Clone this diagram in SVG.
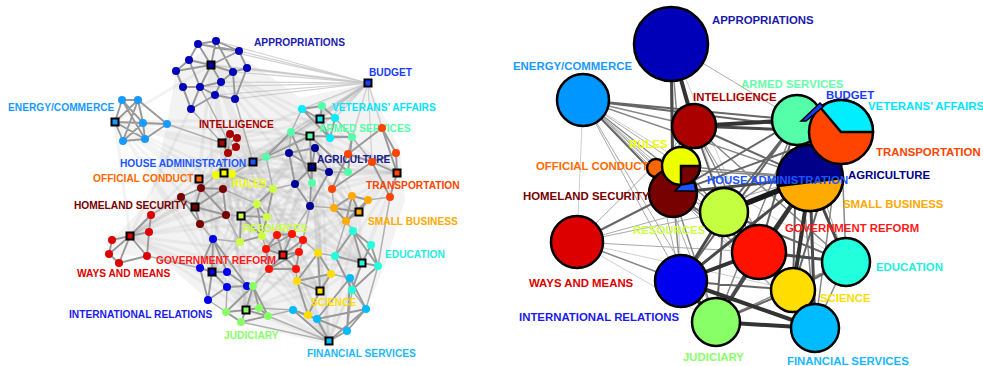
<svg xmlns="http://www.w3.org/2000/svg" width="983" height="366" viewBox="0 0 983 366">
<style>
text{font-family:"Liberation Sans",Arial,Helvetica,sans-serif;font-weight:bold}
.tl{font-size:10.2px}
.tr{font-size:11.4px}
.ce{fill:none;stroke:#999;stroke-width:1.9;stroke-linecap:round;stroke-linejoin:round}
.ie{fill:none;stroke:#b0b0b0;stroke-width:1.5}
.hz{fill:none;stroke:#999;stroke-opacity:.12;stroke-width:3}
.fan{fill:none;stroke:#d0d0d0;stroke-width:1.2}
.sq{stroke:#000;stroke-width:2}
.bc{stroke:#000;stroke-width:2.5}
.k{fill:none;stroke-linecap:round}
</style>
<rect width="983" height="366" fill="#fff"/>
<g id="connectors">
<g id="left-connectors">
<polygon points="176,71 211,45 247,60 300,98 368,83 400,150 405,200 385,265 366,309 329,345 268,330 241,322 208,300 160,258 109,254 112,240 150,200 167,124" fill="#f3f3f3"/>
<path class="fan" d="M368 83L216 41 368 83 239 51 368 83 247 68 368 83 233 72 368 83 221 82 368 83 235 99 368 83 215 95 368 83 198 44 368 83 211 65 368 83 200 87 368 83 302 109 368 83 320 119 368 83 335 118 368 83 352 137 368 83 382 128 368 83 397 173 368 83 348 154 368 83 310 136 368 83 291 132 368 83 253 162 368 83 372 162"/>
<path class="hz" d="M211 65L115 122 211 65 222 143 211 65 253 162 211 65 224 173 211 65 199 179 211 65 368 83 211 65 320 119 211 65 310 136 211 65 312 167 211 65 397 173 211 65 359 212 211 65 362 263 211 65 320 291 211 65 329 341 211 65 283 255 211 65 241 216 211 65 212 272 211 65 246 310 211 65 195 207 211 65 130 236"/>
<path class="hz" d="M115 122L222 143 115 122 253 162 115 122 224 173 115 122 199 179 115 122 320 119 115 122 310 136 115 122 312 167 115 122 283 255 115 122 241 216 115 122 212 272 115 122 195 207 115 122 130 236 115 122 362 263 115 122 246 310"/>
<path class="hz" d="M222 143L253 162 222 143 224 173 222 143 199 179 222 143 368 83 222 143 320 119 222 143 310 136 222 143 312 167 222 143 397 173 222 143 359 212 222 143 362 263 222 143 320 291 222 143 329 341 222 143 283 255 222 143 241 216 222 143 212 272 222 143 246 310 222 143 195 207 222 143 130 236"/>
<path class="hz" d="M253 162L224 173 253 162 199 179 253 162 368 83 253 162 320 119 253 162 310 136 253 162 312 167 253 162 397 173 253 162 359 212 253 162 362 263 253 162 320 291 253 162 329 341 253 162 283 255 253 162 241 216 253 162 212 272 253 162 246 310 253 162 195 207 253 162 130 236"/>
<path class="hz" d="M224 173L199 179 224 173 368 83 224 173 320 119 224 173 310 136 224 173 312 167 224 173 397 173 224 173 359 212 224 173 362 263 224 173 320 291 224 173 329 341 224 173 283 255 224 173 241 216 224 173 212 272 224 173 246 310 224 173 195 207 224 173 130 236"/>
<path class="hz" d="M199 179L320 119 199 179 310 136 199 179 312 167 199 179 397 173 199 179 359 212 199 179 362 263 199 179 320 291 199 179 329 341 199 179 283 255 199 179 241 216 199 179 212 272 199 179 246 310 199 179 195 207 199 179 130 236"/>
<path class="hz" d="M320 119L310 136 320 119 312 167 320 119 397 173 320 119 359 212 320 119 362 263 320 119 320 291 320 119 329 341 320 119 283 255 320 119 241 216 320 119 212 272 320 119 246 310 320 119 195 207 320 119 130 236 320 119 368 83"/>
<path class="hz" d="M310 136L312 167 310 136 397 173 310 136 359 212 310 136 362 263 310 136 320 291 310 136 329 341 310 136 283 255 310 136 241 216 310 136 212 272 310 136 246 310 310 136 195 207 310 136 130 236"/>
<path class="hz" d="M312 167L397 173 312 167 359 212 312 167 362 263 312 167 320 291 312 167 329 341 312 167 283 255 312 167 241 216 312 167 212 272 312 167 246 310 312 167 195 207 312 167 130 236"/>
<path class="hz" d="M397 173L359 212 397 173 362 263 397 173 320 291 397 173 329 341 397 173 283 255 397 173 241 216 397 173 212 272 397 173 246 310 397 173 195 207"/>
<path class="hz" d="M359 212L362 263 359 212 320 291 359 212 329 341 359 212 283 255 359 212 241 216 359 212 212 272 359 212 246 310 359 212 195 207 359 212 130 236"/>
<path class="hz" d="M362 263L320 291 362 263 329 341 362 263 283 255 362 263 241 216 362 263 212 272 362 263 246 310 362 263 195 207"/>
<path class="hz" d="M320 291L329 341 320 291 283 255 320 291 241 216 320 291 212 272 320 291 246 310 320 291 195 207 320 291 130 236"/>
<path class="hz" d="M329 341L283 255 329 341 241 216 329 341 212 272 329 341 246 310 329 341 195 207 329 341 130 236"/>
<path class="hz" d="M283 255L241 216 283 255 212 272 283 255 246 310 283 255 195 207 283 255 130 236 241 216 212 272 241 216 246 310 241 216 195 207 241 216 130 236"/>
<path class="hz" d="M212 272L246 310 212 272 195 207 212 272 130 236 246 310 195 207 246 310 130 236 195 207 130 236"/>
<path class="ie" d="M191 109L222 143 M200 87L229 143 M235 99L253 162 M167 124L222 143 M228 153L216 175 M232 174L253 162 M253 162L266 157 M253 162L289 153 M216 175L201 188 M232 174L273 189 M223 189L257 204 M226 215L241 216 M200 224L213 239 M151 215L181 197 M147 256L200 268 M227 287L226 312 M208 300L226 312 M247 286L253 286 M262 236L266 249 M240 242L213 239 M269 269L253 286 M296 269L297 281 M303 240L318 253 M318 253L335 256 M331 274L350 278 M308 315L293 310 M347 331L352 290 M352 290L366 309 M378 266L366 309 M353 231L346 221 M335 256L346 221 M310 206L334 208 M332 189L334 208 M372 162L352 137 M348 172L329 172 M348 154L352 137 M390 197L368 200 M330 138L352 137 M302 109L291 132 M335 118L352 137 M273 189L295 184 M310 206L303 240 M268 316L293 310 M259 308L293 310 M329 341L268 316 M329 341L241 322 M390 197L378 266 M226 312L241 322 M176 71L191 109 M266 157L273 189 M289 153L291 132 M310 206L292 234 M240 242L226 215"/>
<path class="ce" d="M198 44L216 41L239 51L247 68L233 72L221 82L200 87L183 87L176 71L189 60L198 44 M198 44L211 65L216 41 M239 51L211 65L189 60 M176 71L211 65L233 72 M200 87L211 65L221 82 M221 82L215 95L235 99L247 68 M233 72L235 99 M200 87L191 109L183 87 M215 95L191 109 M189 60L200 87 M216 41L233 72 M198 44L239 51 M200 87L215 95 M176 71L183 87"/>
<path class="ce" d="M122 100L138 100L167 124L145 139L123 141L115 122L122 100L143 123L123 141 M138 100L143 123L167 124 M115 122L143 123L145 139 M122 100L145 139 M138 100L115 122 M138 100L123 141 M115 122L145 139 M115 122L167 124"/>
<path class="ce" d="M222 143L230 134L237 138L236 147L228 153L222 143L229 143L237 138 M230 134L229 143L228 153 M236 147L229 143"/>
<path class="ce" d="M216 175L224 173L232 174"/>
<path class="ce" d="M302 109L320 119L335 118L330 138L320 119 M302 109L322 106L335 118 M322 106L320 119 M302 109L330 138"/>
<path class="ce" d="M291 132L310 136L352 137 M266 157L291 132 M310 136L348 172 M266 157L310 136 M312 183L310 136 M352 137L348 172 M291 132L312 183"/>
<path class="ce" d="M315 148L312 167L329 172 M289 153L312 167L295 184 M310 206L312 167 M289 153L315 148L329 172 M295 184L310 206 M289 153L295 184 M329 172L310 206"/>
<path class="ce" d="M382 128L397 173L396 153L382 128 M348 154L372 162L397 173 M372 162L396 153 M332 189L372 162 M390 197L397 173 M348 154L382 128 M390 197L372 162 M348 154L332 189"/>
<path class="ce" d="M352 196L368 200L359 212L352 196L334 208L346 221L359 212 M334 208L359 212 M368 200L346 221 M352 196L346 221"/>
<path class="ce" d="M353 231L371 245L362 263L353 231L335 256L362 263L378 266L371 245 M352 290L362 263 M335 256L352 290L378 266 M353 231L378 266"/>
<path class="ce" d="M318 253L331 274L320 291L297 281L318 253L320 291 M308 315L320 291 M297 281L308 315 M331 274L297 281"/>
<path class="ce" d="M350 278L366 309L347 331L329 341L317 319L293 310 M317 319L347 331 M329 341L293 310 M350 278L347 331 M366 309L329 341 M350 278L317 319 M366 309L317 319"/>
<path class="ce" d="M277 235L292 234L303 240L299 252L296 269L269 269L266 249L277 235L283 255L292 234 M303 240L283 255L299 252 M266 249L283 255L269 269 M296 269L283 255 M266 249L292 234 M269 269L299 252"/>
<path class="ce" d="M273 189L257 204L241 216L240 242L262 236L267 217L273 189 M257 204L267 217L241 216 M262 236L241 216 M257 204L262 236"/>
<path class="ce" d="M213 239L212 272L200 268L213 239L227 272L212 272L227 287L247 286L227 272 M208 300L212 272 M200 268L208 300L227 287 M213 239L247 286"/>
<path class="ce" d="M253 286L246 310L226 312L241 322L268 316L259 308L253 286L226 312 M259 308L246 310L268 316 M241 322L246 310 M253 286L268 316"/>
<path class="ce" d="M181 197L201 188L223 189L226 215L200 224L195 207L181 197 M201 188L195 207L223 189 M226 215L195 207 M181 197L200 224 M201 188L226 215"/>
<path class="ce" d="M151 215L149 232L147 256L119 263L109 254L112 240L130 236L151 215 M149 232L130 236L147 256 M109 254L130 236L119 263 M112 240L109 254"/>
</g>
<g id="right-connectors">
<path class="k" stroke="#cfcfcf" stroke-width="1" d="M671 44L681 281 M671 44L724 212 M577 242L673 193 M577 242L793 290 M577 242L716 322 M583 100L577 242 M671 44L759 252 M583 100L846 262"/>
<path class="k" stroke="#aaa" stroke-width="1" d="M583 100L681 166 M583 100L759 252 M583 100L681 281 M583 100L716 322 M583 100L793 290 M577 242L724 212 M577 242L759 252 M577 242L810 178 M671 44L797 120 M694 126L793 290 M694 126L815 328 M673 193L815 328 M673 193L846 262 M797 120L846 262 M583 100L656 168 M577 242L694 126 M583 100L815 328 M656 168L681 281 M656 168L716 322"/>
<path class="k" stroke="#888" stroke-width="1.5" d="M583 100L694 126 M583 100L810 178 M671 44L681 166 M673 193L681 281 M673 193L793 290 M577 242L681 281 M841 132L846 262 M841 132L815 328 M797 120L716 322 M797 120L815 328 M694 126L759 252 M694 126L846 262 M716 322L846 262 M846 262L815 328 M681 166L810 178 M681 166L759 252 M656 168L810 178 M673 193L716 322 M724 212L841 132 M583 100L724 212"/>
<path class="k" stroke="#666" stroke-width="2" d="M583 100L797 120 M583 100L673 193 M583 100L841 132 M673 193L759 252 M673 193L797 120 M673 193L841 132 M724 212L797 120 M724 212L716 322 M724 212L793 290 M724 212L815 328 M694 126L810 178 M841 132L793 290 M841 132L759 252 M797 120L759 252 M797 120L793 290 M797 120L681 281 M681 281L793 290 M716 322L793 290 M793 290L815 328 M793 290L846 262 M673 193L577 242 M724 212L846 262 M694 126L724 212"/>
<path class="k" stroke="#4a4a4a" stroke-width="3" d="M671 44L673 193 M694 126L841 132 M810 178L815 328 M810 178L681 281 M810 178L716 322 M759 252L716 322 M759 252L793 290 M759 252L815 328 M759 252L846 262 M724 212L759 252 M724 212L681 281 M673 193L810 178 M810 178L846 262"/>
<path class="k" stroke="#333" stroke-width="4" d="M671 44L694 126 M759 252L681 281 M681 281L716 322 M716 322L815 328 M810 178L793 290 M810 178L759 252 M681 281L815 328 M694 126L797 120"/>
<path class="k" stroke="#1a1a1a" stroke-width="5.5" d="M724 212L810 178"/>
</g>
</g>
<g id="L-appropriations" fill="#0000bb">
<circle cx="198" cy="44" r="4"/><circle cx="216" cy="41" r="4"/><circle cx="239" cy="51" r="4"/><circle cx="189" cy="60" r="4"/><circle cx="176" cy="71" r="4"/><circle cx="233" cy="72" r="4"/><circle cx="247" cy="68" r="4"/><circle cx="183" cy="87" r="4"/><circle cx="200" cy="87" r="4"/><circle cx="221" cy="82" r="4"/><circle cx="215" cy="95" r="4"/><circle cx="235" cy="99" r="4"/><circle cx="191" cy="109" r="4"/>
<rect class="sq" x="207.5" y="61.5" width="7" height="7"/>
<text class="tl" x="254" y="46" fill="#2020b0">APPROPRIATIONS</text>
</g>
<g id="L-budget">
<rect class="sq" x="364.5" y="79.5" width="7" height="7" fill="#1a3cff"/>
<text class="tl" x="369" y="76" fill="#1a3cff">BUDGET</text>
</g>
<g id="L-energy" fill="#1a9aff">
<circle cx="122" cy="100" r="4"/><circle cx="138" cy="100" r="4"/><circle cx="143" cy="123" r="4"/><circle cx="167" cy="124" r="4"/><circle cx="123" cy="141" r="4"/><circle cx="145" cy="139" r="4"/>
<rect class="sq" x="111.5" y="118.5" width="7" height="7"/>
<text class="tl" x="8" y="111">ENERGY/COMMERCE</text>
</g>
<g id="L-intelligence" fill="#aa0000">
<circle cx="230" cy="134" r="4"/><circle cx="237" cy="138" r="4"/><circle cx="236" cy="147" r="4"/><circle cx="228" cy="153" r="4"/><circle cx="229" cy="143" r="3" fill="#bbb"/>
<rect class="sq" x="218.5" y="139.5" width="7" height="7"/>
<text class="tl" x="199" y="128">INTELLIGENCE</text>
</g>
<g id="L-veterans" fill="#00eeff">
<circle cx="302" cy="109" r="4"/><circle cx="335" cy="118" r="4"/><circle cx="330" cy="138" r="4"/>
<rect class="sq" x="316.5" y="115.5" width="7" height="7"/>
<text class="tl" x="332" y="111" fill="#00e5ff">VETERANS’ AFFAIRS</text>
</g>
<g id="L-armed" fill="#55ffaa">
<circle cx="322" cy="106" r="4"/><circle cx="291" cy="132" r="4"/><circle cx="352" cy="137" r="4"/><circle cx="266" cy="157" r="4"/><circle cx="348" cy="172" r="4"/><circle cx="312" cy="183" r="4"/>
<rect class="sq" x="306.5" y="132.5" width="7" height="7"/>
<text class="tl" x="319" y="132">ARMED SERVICES</text>
</g>
<g id="L-agriculture" fill="#000099">
<circle cx="315" cy="148" r="4"/><circle cx="289" cy="153" r="4"/><circle cx="329" cy="172" r="4"/><circle cx="295" cy="184" r="4"/><circle cx="310" cy="206" r="4"/>
<rect class="sq" x="308.5" y="163.5" width="7" height="7"/>
<text class="tl" x="317" y="163" fill="#1a1a90">AGRICULTURE</text>
</g>
<g id="L-transportation" fill="#ff4400">
<circle cx="382" cy="128" r="4"/><circle cx="396" cy="153" r="4"/><circle cx="348" cy="154" r="4"/><circle cx="372" cy="162" r="4"/><circle cx="332" cy="189" r="4"/><circle cx="390" cy="197" r="4"/>
<rect class="sq" x="393.5" y="169.5" width="7" height="7"/>
<text class="tl" x="366" y="189">TRANSPORTATION</text>
</g>
<g id="L-houseadmin">
<rect class="sq" x="249.5" y="158.5" width="7" height="7" fill="#1a55ff"/>
<text class="tl" x="120" y="167" fill="#1a55ff">HOUSE ADMINISTRATION</text>
</g>
<g id="L-rules" fill="#eeff00">
<circle cx="216" cy="175" r="4"/><circle cx="232" cy="174" r="4"/>
<rect class="sq" x="220.5" y="169.5" width="7" height="7"/>
<text class="tl" x="232" y="187">RULES</text>
</g>
<g id="L-official">
<rect class="sq" x="195.5" y="175.5" width="7" height="7" fill="#ff6600"/>
<text class="tl" x="93" y="182" fill="#ff6a00">OFFICIAL CONDUCT</text>
</g>
<g id="L-homeland" fill="#770000">
<circle cx="181" cy="197" r="4"/><circle cx="201" cy="188" r="4"/><circle cx="223" cy="189" r="4"/><circle cx="226" cy="215" r="4"/><circle cx="200" cy="224" r="4"/>
<rect class="sq" x="191.5" y="203.5" width="7" height="7"/>
<text class="tl" x="74" y="209">HOMELAND SECURITY</text>
</g>
<g id="L-smallbusiness" fill="#ffaa00">
<circle cx="352" cy="196" r="4"/><circle cx="368" cy="200" r="4"/><circle cx="334" cy="208" r="4"/><circle cx="346" cy="221" r="4"/>
<rect class="sq" x="355.5" y="208.5" width="7" height="7"/>
<text class="tl" x="368" y="225">SMALL BUSINESS</text>
</g>
<g id="L-resources" fill="#ccff44">
<circle cx="273" cy="189" r="4"/><circle cx="257" cy="204" r="4"/><circle cx="267" cy="217" r="4"/><circle cx="262" cy="236" r="4"/><circle cx="240" cy="242" r="4"/>
<rect class="sq" x="237.5" y="212.5" width="7" height="7"/>
<text class="tl" x="243" y="232">RESOURCES</text>
</g>
<g id="L-education" fill="#22ffdd">
<circle cx="353" cy="231" r="4"/><circle cx="371" cy="245" r="4"/><circle cx="335" cy="256" r="4"/><circle cx="378" cy="266" r="4"/><circle cx="352" cy="290" r="4"/>
<rect class="sq" x="358.5" y="259.5" width="7" height="7"/>
<text class="tl" x="385" y="258" fill="#22eedd">EDUCATION</text>
</g>
<g id="L-govreform" fill="#ff1100">
<circle cx="277" cy="235" r="4"/><circle cx="292" cy="234" r="4"/><circle cx="303" cy="240" r="4"/><circle cx="266" cy="249" r="4"/><circle cx="299" cy="252" r="4"/><circle cx="269" cy="269" r="4"/><circle cx="296" cy="269" r="4"/>
<rect class="sq" x="279.5" y="251.5" width="7" height="7"/>
<text class="tl" x="156" y="264" fill="#ff1a1a">GOVERNMENT REFORM</text>
</g>
<g id="L-waysmeans" fill="#dd0000">
<circle cx="151" cy="215" r="4"/><circle cx="149" cy="232" r="4"/><circle cx="112" cy="240" r="4"/><circle cx="109" cy="254" r="4"/><circle cx="119" cy="263" r="4"/><circle cx="147" cy="256" r="4"/>
<rect class="sq" x="126.5" y="232.5" width="7" height="7"/>
<text class="tl" x="77" y="277">WAYS AND MEANS</text>
</g>
<g id="L-science" fill="#ffdd00">
<circle cx="318" cy="253" r="4"/><circle cx="331" cy="274" r="4"/><circle cx="297" cy="281" r="4"/><circle cx="308" cy="315" r="4"/>
<rect class="sq" x="316.5" y="287.5" width="7" height="7"/>
<text class="tl" x="311" y="306">SCIENCE</text>
</g>
<g id="L-financial" fill="#00bbff">
<circle cx="350" cy="278" r="4"/><circle cx="293" cy="310" r="4"/><circle cx="317" cy="319" r="4"/><circle cx="366" cy="309" r="4"/><circle cx="347" cy="331" r="4"/>
<rect class="sq" x="325.5" y="337.5" width="7" height="7"/>
<text class="tl" x="307" y="357" fill="#1ab8ff">FINANCIAL SERVICES</text>
</g>
<g id="L-international" fill="#0000ee">
<circle cx="213" cy="239" r="4"/><circle cx="200" cy="268" r="4"/><circle cx="227" cy="272" r="4"/><circle cx="227" cy="287" r="4"/><circle cx="208" cy="300" r="4"/><circle cx="247" cy="286" r="4"/>
<rect class="sq" x="208.5" y="268.5" width="7" height="7"/>
<text class="tl" x="69" y="318" fill="#1a1aee">INTERNATIONAL RELATIONS</text>
</g>
<g id="L-judiciary" fill="#88ff66">
<circle cx="253" cy="286" r="4"/><circle cx="226" cy="312" r="4"/><circle cx="259" cy="308" r="4"/><circle cx="268" cy="316" r="4"/><circle cx="241" cy="322" r="4"/>
<rect class="sq" x="242.5" y="306.5" width="7" height="7"/>
<text class="tl" x="224" y="339">JUDICIARY</text>
</g>
<g id="R-appropriations">
<circle class="bc" cx="671" cy="44" r="37" fill="#0000b8"/>
<text class="tr" x="712" y="24" fill="#1a1aa8">APPROPRIATIONS</text>
</g>
<g id="R-energy">
<circle class="bc" cx="583" cy="100" r="26" fill="#0096ff"/>
<text class="tr" x="513" y="70" fill="#1a9aff">ENERGY/COMMERCE</text>
</g>
<g id="R-intelligence">
<circle class="bc" cx="694" cy="126" r="22" fill="#aa0000"/>
<text class="tr" x="693" y="101" fill="#aa0000">INTELLIGENCE</text>
</g>
<g id="R-waysmeans">
<circle class="bc" cx="577" cy="242" r="26" fill="#dd0000"/>
<text class="tr" x="529" y="287" fill="#dd0000">WAYS AND MEANS</text>
</g>
<g id="R-international">
<circle class="bc" cx="681" cy="281" r="26" fill="#0000ee"/>
<text class="tr" x="519" y="321" fill="#1a1aee">INTERNATIONAL RELATIONS</text>
</g>
<g id="R-judiciary">
<circle class="bc" cx="716" cy="322" r="24" fill="#88ff66"/>
<text class="tr" x="683" y="361" fill="#88ff66">JUDICIARY</text>
</g>
<g id="R-science">
<circle class="bc" cx="793" cy="290" r="22" fill="#ffdd00"/>
<text class="tr" x="820" y="302" fill="#ffdd00">SCIENCE</text>
</g>
<g id="R-financial">
<circle class="bc" cx="815" cy="328" r="24" fill="#00bbff"/>
<text class="tr" x="787" y="365" fill="#1ab8ff">FINANCIAL SERVICES</text>
</g>
<g id="R-education">
<circle class="bc" cx="846" cy="262" r="24" fill="#22ffdd"/>
<text class="tr" x="876" y="271" fill="#22eedd">EDUCATION</text>
</g>
<g id="R-govreform">
<circle class="bc" cx="759" cy="252" r="27" fill="#ff1100"/>
<text class="tr" x="785" y="232" fill="#ff1a1a">GOVERNMENT REFORM</text>
</g>
<g id="R-resources">
<circle class="bc" cx="724" cy="212" r="24" fill="#c4ff40"/>
<text class="tr" x="633" y="234" fill="#ccff44">RESOURCES</text>
</g>
<g id="R-agriculture-smallbusiness">
<circle class="bc" cx="810" cy="178" r="33" fill="#000088"/>
<path class="bc" d="M778 186L843 178A33 33 0 0 1 778 186Z" fill="#ffaa00"/>
<text class="tr" x="848" y="179" fill="#000088">AGRICULTURE</text>
<text class="tr" x="843" y="208" fill="#ffaa00">SMALL BUSINESS</text>
</g>
<g id="R-armed">
<circle class="bc" cx="797" cy="120" r="25" fill="#55ffaa"/>
<text class="tr" x="741" y="88" fill="#66ffaa">ARMED SERVICES</text>
</g>
<g id="R-veterans-transportation">
<circle class="bc" cx="841" cy="132" r="32" fill="#ff4400"/>
<path class="bc" d="M841 132L820.4 107.5A32 32 0 0 1 873 132Z" fill="#00eeff"/>
<text class="tr" x="868" y="110" fill="#00e5ff">VETERANS’ AFFAIRS</text>
<text class="tr" x="876" y="156" fill="#ff4400">TRANSPORTATION</text>
</g>
<g id="R-budget">
<path d="M801 121L820 103L823.5 106.5L806 121Z" fill="#1a3cff" stroke="#000" stroke-width="1.5"/>
<text class="tr" x="826" y="99" fill="#1a3cff">BUDGET</text>
</g>
<g id="R-official">
<circle class="bc" cx="656" cy="168" r="9" fill="#ff6600"/>
<text class="tr" x="536" y="170" fill="#ff6a00">OFFICIAL CONDUCT</text>
</g>
<g id="R-homeland">
<circle class="bc" cx="673" cy="193" r="24" fill="#770000"/>
<text class="tr" x="523" y="200" fill="#770000">HOMELAND SECURITY</text>
</g>
<g id="R-rules">
<circle class="bc" cx="681" cy="166" r="19" fill="#eeff00"/>
<path class="bc" d="M681 166L700 166A19 19 0 0 1 681 185Z" fill="#770000"/>
<text class="tr" x="629" y="148" fill="#eeff00">RULES</text>
</g>
<g id="R-houseadmin">
<path d="M675 191L696 191L694 183L681 185Z" fill="#1a55ff" stroke="#000" stroke-width="1.5"/>
<text class="tr" x="707" y="184" fill="#1a55ff">HOUSE ADMINISTRATION</text>
</g>
</svg>
